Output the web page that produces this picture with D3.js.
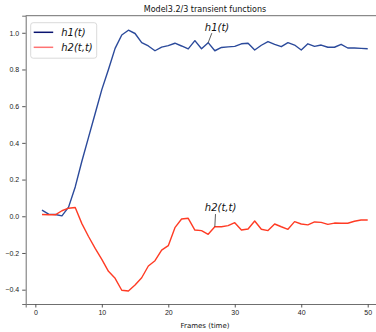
<!DOCTYPE html>
<html>
<head>
<meta charset="utf-8">
<script src="https://cdn.jsdelivr.net/npm/d3@7"></script>
<style>
  body { margin: 0; background: #fff; }
  svg { display: block; font-family: "DejaVu Sans", sans-serif; }
</style>
</head>
<body>
<svg width="376" height="332"></svg>
<script>
// frames 1..50
let frames = d3.range(1, 51);

let h1 = [0.034, 0.012, 0.010, 0.002, 0.050, 0.160, 0.300, 0.430, 0.560, 0.690,
          0.800, 0.915, 0.988, 1.014, 0.996, 0.946, 0.928, 0.902, 0.922, 0.930,
          0.943, 0.928, 0.912, 0.957, 0.913, 0.946, 0.902, 0.920, 0.923, 0.926,
          0.940, 0.943, 0.906, 0.932, 0.952, 0.937, 0.924, 0.946, 0.933, 0.906,
          0.940, 0.926, 0.933, 0.921, 0.921, 0.937, 0.917, 0.917, 0.915, 0.913];

let h2 = [0.010, 0.008, 0.008, 0.030, 0.044, 0.048, -0.040, -0.110, -0.175, -0.235,
          -0.300, -0.338, -0.403, -0.407, -0.374, -0.335, -0.271, -0.242, -0.184, -0.160,
          -0.062, -0.015, -0.011, -0.075, -0.078, -0.098, -0.057, -0.057, -0.051, -0.035,
          -0.075, -0.069, -0.026, -0.071, -0.078, -0.042, -0.057, -0.071, -0.029, -0.042,
          -0.047, -0.031, -0.033, -0.044, -0.037, -0.038, -0.038, -0.027, -0.020, -0.020];

let xTicks = [0, 10, 20, 30, 40, 50];
let yTicks = [-0.4, -0.2, 0.0, 0.2, 0.4, 0.6, 0.8, 1.0];

let seriesNames = ["h1(t)", "h2(t,t)"];
let lineColors = ["#2b4a9b", "#ff3b24"];
let legendColors = ["#0a1470", "#ff7373"];

// annotation: [label, point frame, text x, text y, line start x, line start y]
let notes = [
  ["h1(t)", 26, 25.5, 1.01, 26.55, 0.998],
  ["h2(t,t)", 27, 25.5, 0.03, 27.1, 0.012]
];

let svg = d3.select("svg"),
    margin = {top: 15.7, left: 25.7, bottom: 28},
    width = +svg.attr("width"),
    height = +svg.attr("height");

let x = d3.scaleLinear()
    .domain([-1.45, 52.45])
    .range([margin.left, 384]);

let y = d3.scaleLinear()
    .domain([-0.478, 1.093])
    .range([height - margin.bottom, margin.top]);

let fmt = function(d) { return d3.format(".1f")(d).replace("-", "\u2212"); };

// spines (right one is outside the picture)
let spine = "#6f6f6f";
svg.append("line").attr("x1", x.range()[0]).attr("x2", x.range()[1])
    .attr("y1", y.range()[1]).attr("y2", y.range()[1])
    .attr("stroke", spine).attr("stroke-width", 1);

let xAxis = d3.axisBottom(x).tickValues(xTicks).tickFormat(d3.format("d")).tickSize(3.5).tickPadding(3);
let yAxis = d3.axisLeft(y).tickValues(yTicks).tickFormat(fmt).tickSize(3.5).tickPadding(3);

let xGroup = svg.append("g")
    .attr("transform", "translate(0," + y.range()[0] + ")")
    .call(xAxis);
let yGroup = svg.append("g")
    .attr("transform", "translate(" + x.range()[0] + ",0)")
    .call(yAxis);

[xGroup, yGroup].forEach(function(g) {
  g.select(".domain").attr("stroke", spine).attr("stroke-width", 1);
  g.selectAll(".tick line").attr("stroke", "#555");
  g.selectAll(".tick text").attr("fill", "#222").style("font-size", "7px");
});

let line = d3.line()
  .x(function(d, i) { return x(frames[i]); })
  .y(function(d) { return y(d); });

[h1, h2].forEach(function(s, i) {
  svg.append("path")
      .datum(s)
      .attr("fill", "none")
      .attr("stroke", lineColors[i])
      .attr("stroke-width", 1.4)
      .attr("stroke-linejoin", "round")
      .attr("d", line);
});

// annotations
notes.forEach(function(n) {
  let idx = frames.indexOf(n[1]);
  let val = idx >= 0 && n[0] === "h1(t)" ? h1[idx] : h2[idx];
  svg.append("line")
      .attr("x1", x(n[4])).attr("y1", y(n[5]))
      .attr("x2", x(n[1])).attr("y2", y(val))
      .attr("stroke", "#333").attr("stroke-width", 0.8);
  svg.append("text")
      .attr("x", x(n[2])).attr("y", y(n[3]))
      .attr("font-style", "italic")
      .attr("font-size", "10px")
      .attr("fill", "#111")
      .text(n[0]);
});

// title and x label
svg.append("text")
    .attr("x", 205).attr("y", 12)
    .attr("text-anchor", "middle")
    .attr("font-size", "8px")
    .attr("fill", "#111")
    .text("Model3.2/3 transient functions");

svg.append("text")
    .attr("x", 205).attr("y", 328)
    .attr("text-anchor", "middle")
    .attr("font-size", "7px")
    .attr("fill", "#111")
    .text("Frames (time)");

// legend
let legend = svg.append("g").attr("transform", "translate(30.7,22.7)");
legend.append("rect")
    .attr("width", 66).attr("height", 35.5)
    .attr("rx", 2.5)
    .attr("fill", "#fff").attr("fill-opacity", 0.85)
    .attr("stroke", "#d0d0d0").attr("stroke-width", 0.8);

seriesNames.forEach(function(name, i) {
  let yy = 9.6 + i * 15;
  legend.append("line")
      .attr("x1", 3).attr("x2", 22.5)
      .attr("y1", yy).attr("y2", yy)
      .attr("stroke", legendColors[i]).attr("stroke-width", 1.5);
  legend.append("text")
      .attr("x", 30.5).attr("y", yy + 3.5)
      .attr("font-style", "italic")
      .attr("font-size", "10px")
      .attr("fill", "#111")
      .text(name);
});
</script>
</body>
</html>
